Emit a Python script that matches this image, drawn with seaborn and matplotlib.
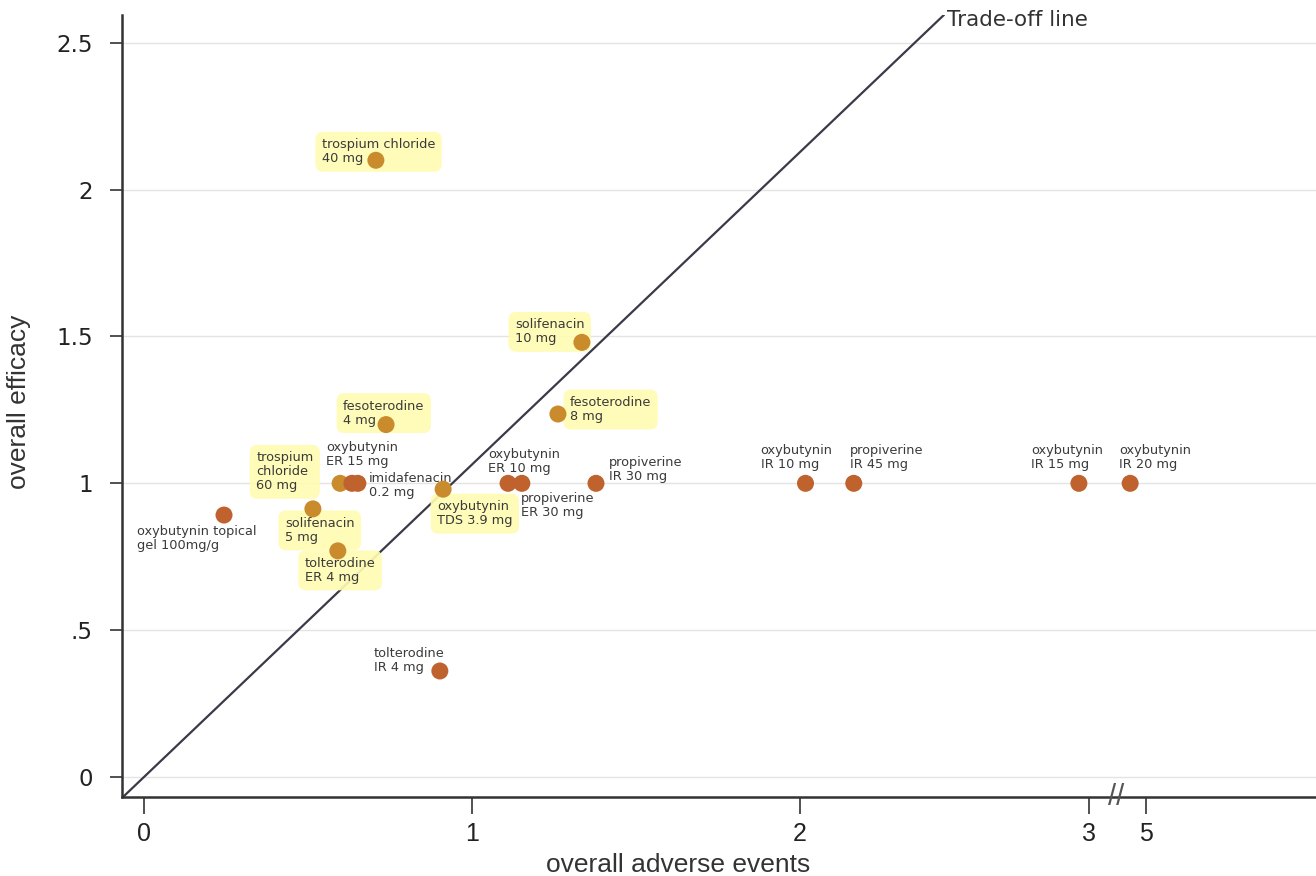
import numpy as np
import pandas as pd
import matplotlib
matplotlib.use("Agg")
import matplotlib.pyplot as plt
import matplotlib.transforms as mtransforms
import seaborn as sns

# ---- data ----
drugs = [
    "trospium chloride\n40 mg", "solifenacin\n10 mg", "fesoterodine\n8 mg",
    "fesoterodine\n4 mg", "trospium\nchloride\n60 mg", "oxybutynin\nER 15 mg",
    "imidafenacin\n0.2 mg", "oxybutynin\nTDS 3.9 mg", "solifenacin\n5 mg",
    "tolterodine\nER 4 mg", "oxybutynin topical\ngel 100mg/g", "tolterodine\nIR 4 mg",
    "oxybutynin\nER 10 mg", "propiverine\nER 30 mg", "propiverine\nIR 30 mg",
    "oxybutynin\nIR 10 mg", "propiverine\nIR 45 mg", "oxybutynin\nIR 15 mg",
    "oxybutynin\nIR 20 mg",
]
adverse_events = [0.707, 1.335, 1.262, 0.738, 0.598, 0.634, 0.652, 0.912, 0.515,
                  0.591, 0.244, 0.902, 1.110, 1.152, 1.378, 2.019, 2.186, 2.965, 4.45]
efficacy = [2.10, 1.48, 1.236, 1.20, 1.00, 1.00, 1.00, 0.98, 0.913,
            0.77, 0.892, 0.361, 1.00, 1.00, 1.00, 1.00, 1.00, 1.00, 1.00]
highlighted = [True, True, True, True, True, False, False, True, True,
               True, False, False, False, False, False, False, False, False, False]

x_ticks = [0, 1, 2, 3, 5]
y_ticks = [0, 0.5, 1, 1.5, 2, 2.5]
y_tick_labels = ["0", ".5", "1", "1.5", "2", "2.5"]
tradeoff_slope = 1.064

# label placement (pixel offsets of text top-left from the point)
label_offsets = [(-54, 22), (-67, 24), (12, 18), (-43, 25), (-84, 32), (-26, 42),
                 (11, 11), (-6, -11), (-28, -8), (-33, -6), (-87, -10), (-66, 24),
                 (-20, 35), (-1, -9), (13, 27), (-45, 39), (-4, 39), (-48, 39),
                 (-11, 39)]

df = pd.DataFrame({"drug": drugs, "adverse": adverse_events,
                   "efficacy": efficacy, "highlight": highlighted})

# broken x axis: compressed beyond 2
bp_x = [-1, 0, 1, 2, 3, 5, 15]
bp_pos = [-1, 0, 1, 2, 2.881, 3.054, 3.919]


def fwd(x):
    return np.interp(x, bp_x, bp_pos)


def inv(p):
    return np.interp(p, bp_pos, bp_x)


sns.set_style("white")
plt.rcParams["font.family"] = ["DejaVu Sans"]
narrow = ["Liberation Sans Narrow", "Liberation Sans", "DejaVu Sans"]

fig = plt.figure(figsize=(13.16, 8.76), dpi=100)
ax = fig.add_axes([0.0927, 0.0902, 0.9073, 0.8928])

sns.scatterplot(data=df, x="adverse", y="efficacy", hue="highlight",
                palette={True: "#C98B2B", False: "#BF622D"}, s=150,
                linewidth=0, legend=False, ax=ax, zorder=4)

ax.set_xscale("function", functions=(fwd, inv))
ax.set_xlim(-0.067, 11.0)
ax.set_ylim(-0.068, 2.595)

# trade-off line
ax.axline((0, 0), (1, tradeoff_slope), color="#3a3a48", lw=1.6, zorder=2)
ax.text(2.51, 2.578, "Trade-off line", fontsize=15.5, color="#333333",
        ha="left", va="center")

for i, row in df.iterrows():
    dx, dy = label_offsets[i]
    box = None
    if row["highlight"]:
        box = dict(boxstyle="round,pad=0.5,rounding_size=0.6",
                   fc="#FFFBB3", ec="none", alpha=0.92)
    ax.annotate(row["drug"], (row["adverse"], row["efficacy"]),
                xytext=(dx, dy), textcoords="offset pixels",
                ha="left", va="top", fontsize=9.3, color="#3a3a3a",
                linespacing=1.1, bbox=box, zorder=3)

ax.set_xticks(x_ticks)
ax.set_xticklabels([str(t) for t in x_ticks])
ax.set_yticks(y_ticks)
ax.set_yticklabels(y_tick_labels)
ax.xaxis.set_minor_locator(matplotlib.ticker.NullLocator())
ax.tick_params(axis="y", direction="out", length=9, width=1.2, color="#333333",
               labelsize=16.5, pad=12, left=True, labelcolor="#222222")
ax.tick_params(axis="x", direction="out", length=12, width=1.2, color="#333333",
               labelsize=18, pad=6, bottom=True, labelcolor="#222222")
for lab in ax.get_xticklabels():
    lab.set_family(narrow)

ax.yaxis.grid(True, color="#e4e4e4", lw=1.0)
ax.xaxis.grid(False)
for side in ["top", "right"]:
    ax.spines[side].set_visible(False)
for side in ["left", "bottom"]:
    ax.spines[side].set_color("#333333")
    ax.spines[side].set_linewidth(1.8)

# axis break mark
trans = mtransforms.blended_transform_factory(ax.transData, ax.transAxes)
ax.text(3.95, 0.0, "//", transform=trans, ha="center", va="center",
        fontsize=21, color="#555555", clip_on=False, zorder=5, family=narrow)

ax.set_xlabel("overall adverse events", fontsize=19, color="#333333", family=narrow)
ax.set_ylabel("overall efficacy", fontsize=19, color="#333333", family=narrow)
ax.xaxis.set_label_coords((678 - 122) / 1194, -0.072)
ax.yaxis.set_label_coords(-0.076, 0.505)

fig.savefig("out.png", dpi=100)
